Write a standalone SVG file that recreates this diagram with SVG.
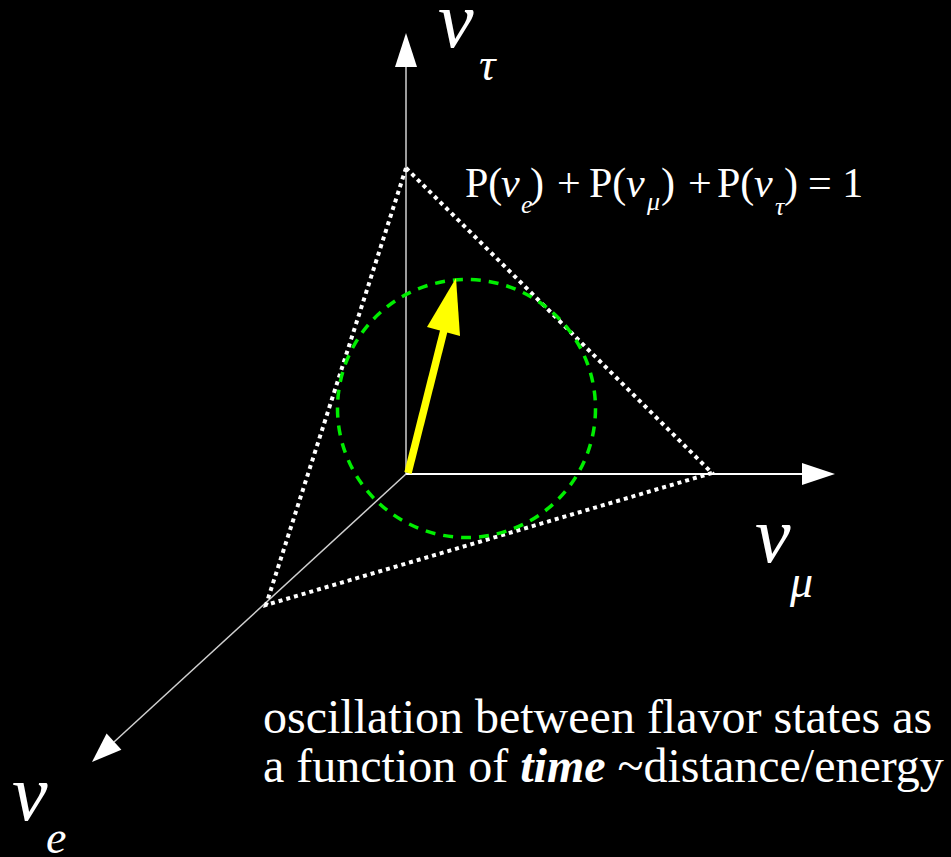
<svg xmlns="http://www.w3.org/2000/svg" width="951" height="857" viewBox="0 0 951 857">
<defs>
<style>
.ax{stroke:#d0d0d0;stroke-width:1.5;fill:none}
.axw{stroke:#ffffff;stroke-width:2;fill:none}
.head{fill:#ffffff}
.tri{stroke:#ffffff;stroke-width:4;stroke-dasharray:4 4;fill:none}
.circ{stroke:#00ee00;stroke-width:3.5;stroke-dasharray:10 8;fill:none}
.t{font-family:"Liberation Serif","Times New Roman",serif;fill:#ffffff}
.g{font-family:"Liberation Serif","Times New Roman",serif;font-style:italic;fill:#ffffff}
.eq{font-size:42px}
.sub{font-size:26px}
</style>
</defs>
<rect x="0" y="0" width="951" height="857" fill="#000000"/>
<g id="connectors">
<line class="ax" x1="406" y1="474" x2="406" y2="66"/>
<polygon class="head" points="406,33 395,67 417,67"/>
<line class="axw" x1="406" y1="474" x2="803" y2="474"/>
<polygon class="head" points="835,474 802,463 802,485"/>
<line class="ax" x1="406" y1="474" x2="114" y2="742"/>
<polygon class="head" points="92,762 106.6,733.6 121.4,749.8"/>
</g>
<g id="triangle">
<polygon class="tri" points="406,168 712,473 266,605"/>
</g>
<g id="circle">
<circle class="circ" cx="466.5" cy="408.5" r="129"/>
</g>
<g id="state-vector">
<line x1="408" y1="473" x2="444" y2="330" stroke="#ffff00" stroke-width="7.5"/>
<polygon points="456,278 427,327 460,336" fill="#ffff00"/>
</g>
<g id="label-tau">
<text class="g" x="438" y="47" font-size="80">ν</text>
<text class="g" x="479" y="80" font-size="46">τ</text>
</g>
<g id="label-mu">
<text class="g" x="755" y="562" font-size="80">ν</text>
<text class="g" x="790" y="597" font-size="46">μ</text>
</g>
<g id="label-e">
<text class="g" x="12" y="820" font-size="80">ν</text>
<text class="g" x="46" y="853" font-size="46">e</text>
</g>
<g id="equation">
<text class="t eq" x="465" y="197">P(</text>
<text class="g eq" x="501" y="197">ν</text>
<text class="g sub" x="521" y="213">e</text>
<text class="t eq" x="530" y="197">)</text>
<text class="t eq" x="557" y="197">+</text>
<text class="t eq" x="589" y="197">P(</text>
<text class="g eq" x="626" y="197">ν</text>
<text class="g sub" x="647" y="210">μ</text>
<text class="t eq" x="661" y="197">)</text>
<text class="t eq" x="688" y="197">+</text>
<text class="t eq" x="717" y="197">P(</text>
<text class="g eq" x="754" y="197">ν</text>
<text class="g sub" x="775" y="215">τ</text>
<text class="t eq" x="784" y="197">)</text>
<text class="t eq" x="808" y="197">= 1</text>
</g>
<g id="caption">
<text class="t" font-size="48" x="263" y="733">oscillation between flavor states as</text>
<text class="t" font-size="48" x="263" y="782">a function of <tspan font-weight="bold" font-style="italic">time</tspan> ~distance/energy</text>
</g>
</svg>
